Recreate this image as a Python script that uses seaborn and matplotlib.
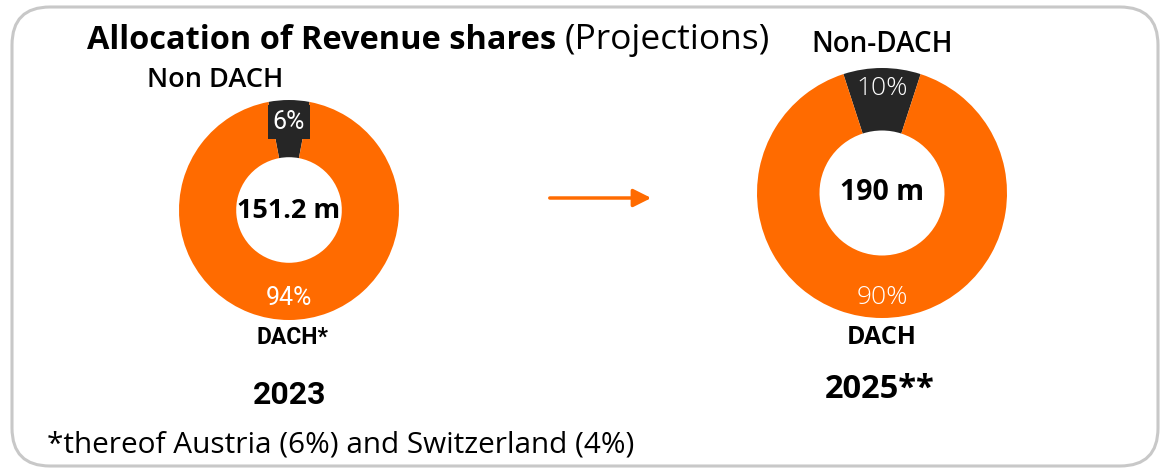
import matplotlib
matplotlib.use("Agg")
import matplotlib.pyplot as plt
import seaborn as sns
from matplotlib.patches import FancyBboxPatch

# Daten
years = ["2023", "2025**"]
centers = ["151.2 m", "190 m"]
seg_names_2023 = ["Non DACH", "DACH*"]
seg_names_2025 = ["Non-DACH", "DACH"]
shares_2023 = [6, 94]
shares_2025 = [10, 90]
footnote = "*thereof Austria (6%) and Switzerland (4%)"

sns.set_theme(style="white")
plt.rcParams['font.family'] = ['Open Sans', 'DejaVu Sans']
plt.rcParams['text.color'] = 'black'

orange = "#FF6B00"
dark = "#262626"
colors = [dark, orange]

W, H = 1169, 472
fig = plt.figure(figsize=(W / 100, H / 100), dpi=100)

# Hintergrund-Achse in Pixelkoordinaten
bg = fig.add_axes([0, 0, 1, 1])
bg.set_xlim(0, W)
bg.set_ylim(H, 0)
bg.axis("off")
bg.add_patch(FancyBboxPatch((12, 7), 1146, 459, boxstyle="round,pad=0,rounding_size=38",
                            fc="white", ec="#c8c8c8", lw=2.2))


def donut(cx, cy, r, shares, width, pctdist, pctfont, pctsize, pctweight):
    ax = fig.add_axes([(cx - r) / W, 1 - (cy + r) / H, 2 * r / W, 2 * r / H])
    start = 90 - shares[0] * 360 / 100 / 2
    wedges, texts, autotexts = ax.pie(shares, colors=colors, startangle=start,
                                      autopct=lambda p: f"{p:.0f}%", pctdistance=pctdist,
                                      wedgeprops=dict(width=width, linewidth=0),
                                      textprops=dict(color="white", fontsize=pctsize,
                                                     fontweight=pctweight, family=pctfont))
    ax.set_xlim(-1, 1)
    ax.set_ylim(-1, 1)
    ax.set_aspect("auto")
    return ax, autotexts


ax1, t1 = donut(289, 210, 110, shares_2023, 0.52, 0.8, "Roboto", 18, "normal")
t1[0].set_bbox(dict(fc=dark, ec="none", pad=3.5))
ax2, t2 = donut(882, 193, 125, shares_2025, 0.5, 0.84, "Open Sans", 19, "light")

# Titel
bg.text(87, 49, "Allocation of Revenue shares", fontsize=23.4, fontweight="bold", va="baseline", ha="left")
bg.text(565, 49, "(Projections)", fontsize=25.5, va="baseline", ha="left")

# Beschriftungen
bg.text(215, 80, seg_names_2023[0], fontsize=19.5, va="center", ha="center", fontweight="semibold")
bg.text(882, 45, seg_names_2025[0], fontsize=20, va="center", ha="center", fontweight="semibold")
bg.text(289, 211, centers[0], fontsize=19.5, va="center", ha="center", fontweight="bold")
bg.text(882, 192, centers[1], fontsize=20.5, va="center", ha="center", fontweight="bold")
bg.text(292, 337, seg_names_2023[1], fontsize=16.5, va="center", ha="center", fontweight="bold",
        family="Roboto")
bg.text(882, 338, seg_names_2025[1], fontsize=18, va="center", ha="center", fontweight="bold")
bg.text(290, 395, years[0], fontsize=23, va="center", ha="center", fontweight="bold", family="Roboto")
bg.text(880, 390, years[1], fontsize=23.5, va="center", ha="center", fontweight="bold")
bg.text(47, 445, footnote, fontsize=21.4, va="center", ha="left")

# Pfeil
bg.annotate("", xy=(654, 198), xytext=(547, 198),
            arrowprops=dict(arrowstyle="-|>,head_length=0.9,head_width=0.45", color=orange, lw=2.5))

fig.savefig("out.png", dpi=100, facecolor="white")
